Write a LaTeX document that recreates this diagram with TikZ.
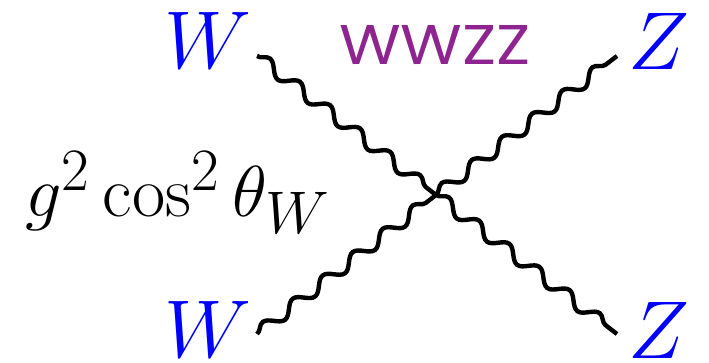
\documentclass[tikz,border=0pt]{standalone}
\usepackage{fontspec}
\newfontfamily\wfont{Poppins}
\usetikzlibrary{decorations.pathmorphing}
\definecolor{wzpurple}{RGB}{142,36,143}
\begin{document}
\begin{tikzpicture}[x=1pt,y=-1pt,
  boson/.style={line width=4.4pt, decorate, decoration={snake, segment length=38pt, amplitude=6pt}},
  particle/.style={text=blue, font=\Huge, scale=3.296, inner sep=0pt, anchor=base},
  coupling/.style={font=\Huge, scale=2.9, inner sep=0pt, anchor=base},
  vertexname/.style={text=wzpurple, font=\fontsize{56}{65}\wfont, xscale=1.13, inner sep=0pt, anchor=base},
]
\useasboundingbox (0,0) rectangle (709,363);
\coordinate (v) at (436,195);
\coordinate (a) at (257,56);
\coordinate (b) at (257,334);
\coordinate (c) at (617,56);
\coordinate (d) at (617,334);
\draw[boson] (a) -- (v);
\draw[boson] (b) -- (v);
\draw[boson] (v) -- (c);
\draw[boson] (v) -- (d);
\node[particle] (wa) at (208,69) {$W$};
\node[particle] (wb) at (208,357) {$W$};
\node[particle] (za) at (659,70) {$Z$};
\node[particle] (zb) at (659,358) {$Z$};
\node[coupling] (g) at (178,217) {$g^2\cos^2\theta_W$};
\node[vertexname] (name) at (435,65) {WWZZ};
\end{tikzpicture}
\end{document}
